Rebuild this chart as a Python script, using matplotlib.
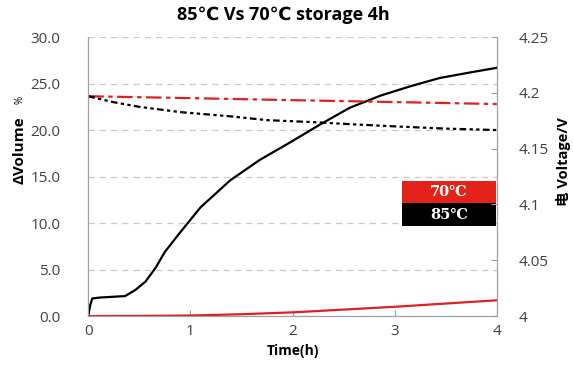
import matplotlib.pyplot as plt
from matplotlib.patches import Rectangle

plt.rcParams['font.family'] = ['Open Sans', 'DejaVu Sans', 'Noto Sans CJK SC']

# 体積変化 (左軸, %)
t_85_vol = [0, 0.02, 0.04, 0.12, 0.36, 0.46, 0.56, 0.66, 0.75, 0.9, 1.1, 1.39, 1.68,
            1.98, 2.27, 2.56, 2.86, 3.15, 3.44, 3.74, 4.0]
vol_85 = [0, 1.2, 1.9, 2.0, 2.15, 2.8, 3.7, 5.2, 6.9, 9.0, 11.7, 14.6, 16.8,
          18.7, 20.6, 22.4, 23.7, 24.7, 25.6, 26.2, 26.7]
t_70_vol = [0, 0.5, 1.0, 1.5, 2.0, 2.5, 3.0, 3.5, 4.0]
vol_70 = [0, 0.02, 0.06, 0.2, 0.4, 0.7, 1.0, 1.35, 1.7]

# 電圧 (右軸, V)
t_85_v = [0, 0.24, 0.5, 0.9, 1.39, 1.75, 2.2, 2.6, 3.0, 3.5, 4.0]
volt_85 = [4.197, 4.1918, 4.1875, 4.1828, 4.179, 4.1756, 4.1738, 4.1718, 4.170, 4.168, 4.1667]
t_70_v = [0, 1, 2, 3, 4]
volt_70 = [4.197, 4.1953, 4.1935, 4.1918, 4.190]

fig, ax = plt.subplots(figsize=(5.73, 3.71), dpi=100)
fig.subplots_adjust(left=0.154, right=0.867, top=0.900, bottom=0.148)
ax2 = ax.twinx()

ax.plot(t_70_vol, vol_70, color="#e02020", linewidth=1.6, zorder=3)
ax.plot(t_85_vol, vol_85, color="black", linewidth=1.6, zorder=3)
ax2.plot(t_70_v, volt_70, color="#e02020", linewidth=1.6, dashes=[7, 2, 2, 2])
ax2.plot(t_85_v, volt_85, color="black", linewidth=1.6, dashes=[3, 1.5, 1.5, 1.5, 1.5, 1.5])

ax.set_xlim(0, 4)
ax.set_ylim(0, 30)
ax2.set_ylim(4, 4.25)
ax.set_xticks([0, 1, 2, 3, 4])
ax.set_yticks([0, 5, 10, 15, 20, 25, 30])
ax.set_yticklabels([f"{v:.1f}" for v in [0, 5, 10, 15, 20, 25, 30]])
ax2.set_yticks([4, 4.05, 4.1, 4.15, 4.2, 4.25])
ax2.set_yticklabels(["4", "4.05", "4.1", "4.15", "4.2", "4.25"])

ax.yaxis.grid(True, linestyle=(0, (5, 4)), color="#c8c8c8", linewidth=0.9)
ax.set_axisbelow(True)

for a in (ax, ax2):
    a.spines["top"].set_visible(False)
    for s in ("left", "right", "bottom"):
        a.spines[s].set_color("#a0a0a0")
ax.tick_params(axis="x", direction="in", length=4, color="#a0a0a0",
               labelsize=11, labelcolor="#404040", pad=6)
ax.tick_params(axis="y", length=0, labelsize=11, labelcolor="#404040", pad=20)
ax2.tick_params(axis="y", direction="in", length=4, color="#a0a0a0",
                labelsize=11, labelcolor="#404040", pad=16)

ax.set_xlabel("Time(h)", fontsize=10, fontweight="bold", labelpad=3)
fig.text(0.035, 0.595, "ΔVolume", rotation=90, fontsize=11, fontweight="bold",
         ha="center", va="center")
fig.text(0.035, 0.73, "%", rotation=90, fontsize=7, ha="center", va="center")
fig.text(0.984, 0.565, "电 Voltage/V", rotation=90, fontsize=10.5, fontweight="bold",
         ha="center", va="center")
fig.suptitle("85℃ Vs 70℃ storage 4h", x=0.495, y=0.985, fontsize=13, fontweight="bold")

# 凡例
ax.add_patch(Rectangle((0.768, 0.405), 0.23, 0.079, transform=ax.transAxes,
                       facecolor="#e32219", edgecolor="none", zorder=5))
ax.add_patch(Rectangle((0.768, 0.323), 0.23, 0.082, transform=ax.transAxes,
                       facecolor="black", edgecolor="none", zorder=5))
ax.text(0.883, 0.445, "70℃", transform=ax.transAxes, color="white", fontsize=10.5,
        fontweight="bold", family=["DejaVu Serif"], ha="center", va="center", zorder=6)
ax.text(0.883, 0.364, "85℃", transform=ax.transAxes, color="white", fontsize=10.5,
        fontweight="bold", family=["DejaVu Serif"], ha="center", va="center", zorder=6)

plt.savefig("out.png", dpi=100)
